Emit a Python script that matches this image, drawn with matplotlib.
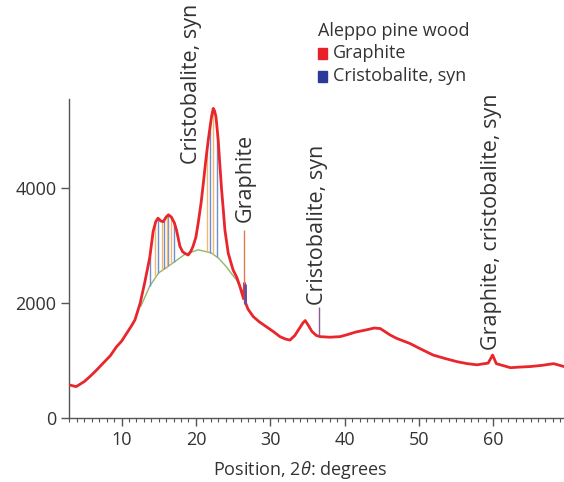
import matplotlib
matplotlib.use("Agg")
import matplotlib.pyplot as plt
from matplotlib.patches import Rectangle
from matplotlib.ticker import MultipleLocator

plt.rcParams['font.family'] = ['Open Sans', 'DejaVu Sans']
plt.rcParams['mathtext.fontset'] = 'custom'
plt.rcParams['mathtext.it'] = 'Open Sans:italic'
plt.rcParams['mathtext.rm'] = 'Open Sans'

# ---- data ----
pos = [3.0, 3.9, 5.0, 5.7, 6.5, 7.5, 8.5, 9.3, 10.0, 10.7, 11.3, 11.8, 12.5, 13.1,
       13.8, 14.25, 14.6, 14.9, 15.3, 15.6, 16.0, 16.3, 16.7, 17.1, 17.4, 17.85,
       18.2, 18.5, 18.96, 19.3, 19.6, 20.0, 20.3, 20.7, 21.0, 21.3, 21.66, 22.1,
       22.33, 22.5, 22.7, 23.0, 23.2, 23.46, 23.7, 23.9, 24.35, 25.0, 25.5, 25.9,
       26.4, 26.55, 26.7, 27.0, 27.7, 28.5, 29.5, 30.5, 31.3, 32.0, 32.65, 33.3,
       33.8, 34.4, 34.7, 35.1, 35.6, 36.2, 36.7, 38.0, 39.4, 40.5, 41.5, 43.0,
       44.0, 44.8, 46.1, 47.0, 48.8, 50.0, 51.9, 53.5, 55.1, 56.5, 57.8, 59.3,
       59.9, 60.4, 62.3, 63.5, 65.0, 66.5, 68.1, 69.5]
counts = [580, 550, 640, 720, 820, 955, 1090, 1240, 1340, 1480, 1600, 1710, 2000, 2350,
          2800, 3250, 3420, 3480, 3430, 3420, 3500, 3540, 3500, 3400, 3270, 2990,
          2900, 2870, 2840, 2900, 2985, 3150, 3390, 3750, 4090, 4450, 4840, 5245,
          5390, 5350, 5245, 4840, 4450, 3970, 3600, 3275, 2870, 2580, 2450, 2300,
          2080, 2350, 2000, 1900, 1770, 1680, 1590, 1500, 1420, 1380, 1360, 1440,
          1540, 1660, 1700, 1620, 1510, 1440, 1420, 1410, 1420, 1460, 1500, 1540,
          1570, 1560, 1450, 1390, 1300, 1220, 1100, 1040, 985, 950, 930, 960,
          1100, 950, 880, 890, 900, 920, 950, 900]

bg_pos = [12.6, 13.8, 15.0, 16.0, 16.9, 18.5, 20.3, 22.0, 23.0, 24.0, 25.0, 25.5, 26.5]
bg_counts = [1950, 2300, 2530, 2620, 2700, 2850, 2930, 2880, 2790, 2650, 2480, 2400, 2150]

blue_pos = [13.8, 14.9, 15.75, 16.3, 17.1, 21.9, 22.9]
blue_low = [2300, 2530, 2600, 2640, 2720, 2880, 2800]
blue_high = [2800, 3480, 3440, 3540, 3400, 5100, 4950]

orange_pos = [14.5, 15.4, 16.06, 16.7, 21.45, 22.3]
orange_low = [2450, 2570, 2620, 2690, 2900, 2860]
orange_high = [3400, 3430, 3500, 3500, 4650, 5380]

ref_pos = [26.5, 36.5]
ref_low = [2000, 1440]
ref_high = [3275, 1940]

labels = ["Cristobalite, syn", "Graphite", "Cristobalite, syn", "Graphite, cristobalite, syn"]
label_x = [19.4, 26.7, 36.35, 59.8]
label_y = [4420, 3420, 1970, 1190]

x_ticks = [10, 20, 30, 40, 50, 60]
y_ticks = [0, 2000, 4000]

# ---- figure ----
fig = plt.figure(figsize=(5.64, 4.82), dpi=100)
ax = fig.add_axes([0.1232, 0.1322, 0.8768, 0.662])

txt = '#333333'
spine = '#555555'

ax.plot(bg_pos, bg_counts, color='#8fb86a', lw=1.0, zorder=2)
ax.vlines(blue_pos, blue_low, blue_high, color='#6d8fd0', lw=1.0, zorder=3)
ax.vlines(orange_pos, orange_low, orange_high, color='#f2b870', lw=1.0, zorder=3)
ax.plot(pos, counts, color='#e8262c', lw=2.0, zorder=4)
ax.vlines(ref_pos, ref_low, ref_high, color=['#e07a55', '#8a5a9a'], lw=1.0, zorder=5)
ax.vlines([26.6], [1990], [2330], color='#6a4aa0', lw=2.0, zorder=5)

for s, xx, yy in zip(labels, label_x, label_y):
    ax.text(xx, yy, s, rotation=90, ha='center', va='bottom', fontsize=15.5,
            color=txt, clip_on=False)

ax.set_xlim(3, 69.5)
ax.set_ylim(0, 5550)
ax.set_xticks(x_ticks)
ax.set_yticks(y_ticks)
ax.xaxis.set_minor_locator(MultipleLocator(1))
ax.tick_params(axis='both', which='major', labelsize=13, colors=spine,
               labelcolor=txt, length=6, width=1, direction='out')
ax.tick_params(axis='x', which='minor', length=3, width=0.8, colors=spine)
for side in ['top', 'right']:
    ax.spines[side].set_visible(False)
for side in ['left', 'bottom']:
    ax.spines[side].set_color(spine)
    ax.spines[side].set_linewidth(1.0)

fig.text(300 / 564, 1 - 470 / 482, r"Position, 2$\it{\theta}$: degrees", ha='center',
         va='center', fontsize=13, color=txt)

# legend block
fig.text(318 / 564, 1 - 31 / 482, "Aleppo pine wood", ha='left', va='center',
         fontsize=13, color=txt)
fig.patches.append(Rectangle((318 / 564, 1 - 59 / 482), 9 / 564, 11 / 482,
                             transform=fig.transFigure, color='#e8202a'))
fig.text(333 / 564, 1 - 53 / 482, "Graphite", ha='left', va='center',
         fontsize=13, color=txt)
fig.patches.append(Rectangle((318 / 564, 1 - 82 / 482), 9 / 564, 11 / 482,
                             transform=fig.transFigure, color='#2b3a99'))
fig.text(333 / 564, 1 - 76 / 482, "Cristobalite, syn", ha='left', va='center',
         fontsize=13, color=txt)

fig.savefig("out.png", dpi=100)
